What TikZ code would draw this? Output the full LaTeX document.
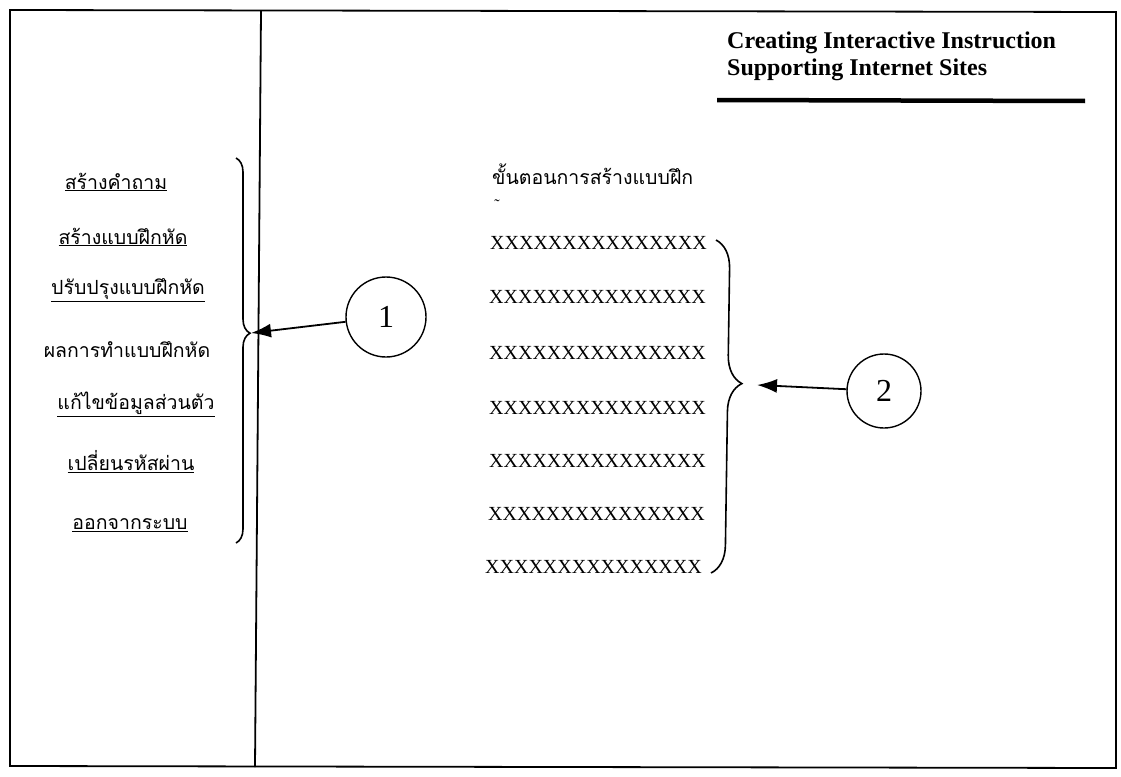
\documentclass[tikz,border=0pt]{standalone}
\usepackage{fontspec}
\setmainfont{Liberation Serif}
\newfontfamily\thaifont[Script=Thai]{Loma}
\usetikzlibrary{arrows.meta,decorations.pathreplacing}
\tikzset{
	menu/.style={font=\thaifont\fontsize{19.5}{22}\selectfont, inner sep=0pt},
	stepline/.style={font=\fontsize{20}{22}\selectfont, inner sep=0pt, anchor=west},
	number/.style={draw, circle, line width=1.4pt, inner sep=0pt, font=\fontsize{32}{32}\selectfont},
	pointer/.style={-{Latex[length=20pt,width=14pt]}, line width=1.8pt},
	curly/.style={decorate, decoration={brace, amplitude=#1}, line width=1.6pt},
}
\begin{document}
\begin{tikzpicture}[x=1pt,y=-1pt]
	\useasboundingbox (0,0) rectangle (1121,776);
	\draw[line width=1.8pt] (10,10) -- (1116,12) -- (1116,768) -- (10,766) -- cycle;
	\draw[line width=1.8pt] (261,11) -- (255,767);
	\node[font=\bfseries\fontsize{24}{27}\selectfont, align=left, anchor=north west, inner sep=0pt] (title) at (727,32) {Creating Interactive Instruction\\Supporting Internet Sites};
	\draw[line width=4.5pt] (717,100) -- (1085,101);
	\foreach \i/\xx/\yy/\txt in {1/116/182/สร้างคำถาม, 2/123/237/สร้างแบบฝึกหัด, 3/128/290/ปรับปรุงแบบฝึกหัด, 5/136/404/แก้ไขข้อมูลส่วนตัว, 6/131/462/เปลี่ยนรหัสผ่าน, 7/130/525/ออกจากระบบ}{
		\node[menu] (menu\i) at (\xx,\yy) {\underline{\txt}};
	}
	\node[menu] (menu4) at (127,350) {ผลการทำแบบฝึกหัด};
	\node[menu, anchor=west] (heading) at (492,174) {ขั้นตอนการสร้างแบบฝึก};
	\node[font=\fontsize{16}{16}\selectfont, inner sep=0pt] (mark) at (497,205) {\char"02DC};
	\foreach \i/\xx/\yy in {1/490/243, 2/489/297, 3/489/353, 4/489/408, 5/489/461, 6/488/514, 7/485/567}{
		\node[stepline] (step\i) at (\xx,\yy) {XXXXXXXXXXXXXXX};
	}
	\coordinate (lbtop) at (236,158);
	\coordinate (lbbot) at (236,543);
	\coordinate (ltip) at (251,333);
	\draw[curly=14pt, decoration={aspect=0.455}] (lbtop) -- (lbbot);
	\coordinate (rbtop) at (716,240);
	\coordinate (rbbot) at (711,573);
	\coordinate (rtip) at (757,385);
	\draw[curly=28pt, decoration={aspect=0.43}] (rbtop) -- (rbbot);
	\node[number, minimum size=80pt] (num1) at (386,317) {1};
	\node[number, minimum size=74pt] (num2) at (884,391) {2};
	\draw[pointer] (num1) -- (ltip);
	\draw[pointer] (num2) -- (rtip);
\end{tikzpicture}
\end{document}
